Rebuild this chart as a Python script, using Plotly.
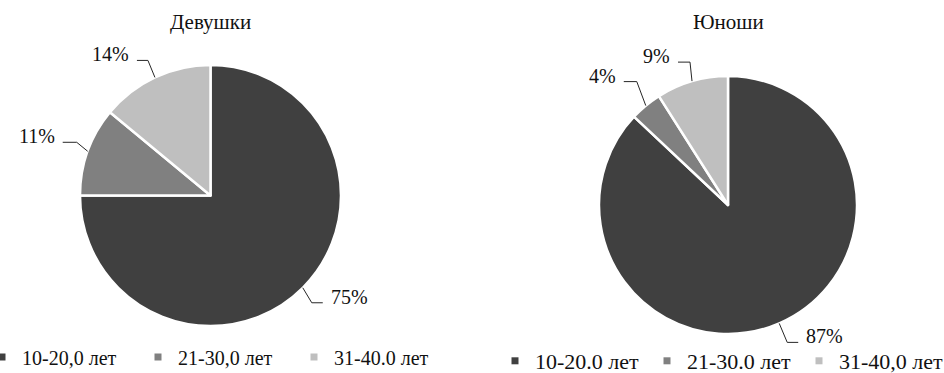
import math
import plotly.graph_objects as go

# ---- data ----
titles = ["Девушки", "Юноши"]
labels_girls = ["10-20,0 лет", "21-30,0 лет", "31-40.0 лет"]
labels_boys = ["10-20.0 лет", "21-30.0 лет", "31-40,0 лет"]
values_girls = [75, 11, 14]
values_boys = [87, 4, 9]

# ---- style ----
colors = ["#404040", "#808080", "#bfbfbf"]
FONT = "Liberation Serif"
TXT = "#111111"
W, H = 944, 373

# pie geometry (px) and leader-line elbows per slice: (dx, dy, horizontal length)
pies = [
    dict(cx=210.5, cy=195.5, r=130.5, title=titles[0], labels=labels_girls,
         values=values_girls, legend="legend",
         elbows=[(9, 15, 11), (-11, -9, -14), (-7, -17, -11)]),
    dict(cx=728.0, cy=205.0, r=129.0, title=titles[1], labels=labels_boys,
         values=values_boys, legend="legend2",
         elbows=[(8, 19, 11), (-9, -24, -13), (-2, -19, -12)]),
]


def px(x):
    return x / W


def py(y):
    return 1 - y / H


fig = go.Figure()
annotations = []
shapes = []

for p in pies:
    fig.add_trace(go.Pie(
        labels=p["labels"], values=p["values"], sort=False,
        direction="clockwise", rotation=0, textinfo="none",
        marker=dict(colors=colors, line=dict(color="white", width=2.5)),
        domain=dict(x=[px(p["cx"] - p["r"]), px(p["cx"] + p["r"])],
                    y=[py(p["cy"] + p["r"]), py(p["cy"] - p["r"])]),
        showlegend=False, hoverinfo="label+percent",
    ))
    # legend entries
    for lab, col in zip(p["labels"], colors):
        fig.add_trace(go.Scatter(
            x=[None], y=[None], mode="markers", name=lab,
            marker=dict(symbol="square", size=7, color=col),
            legend=p["legend"], hoverinfo="skip",
        ))
    # title
    annotations.append(dict(
        x=px(p["cx"]), y=py(22), xref="paper", yref="paper",
        text=p["title"], showarrow=False, xanchor="center", yanchor="middle",
        font=dict(family=FONT, size=21, color=TXT)))
    # data labels with leader lines
    total = sum(p["values"])
    cum = 0
    for v, (ex, ey, hl) in zip(p["values"], p["elbows"]):
        mid = (cum + v / 2) / total * 2 * math.pi
        cum += v
        x0 = p["cx"] + p["r"] * math.sin(mid)
        y0 = p["cy"] - p["r"] * math.cos(mid)
        x1, y1 = x0 + ex, y0 + ey
        x2 = x1 + hl
        shapes.append(dict(
            type="path", xref="paper", yref="paper",
            path=f"M {px(x0)},{py(y0)} L {px(x1)},{py(y1)} L {px(x2)},{py(y1)}",
            line=dict(color="#262626", width=1)))
        sgn = 1 if hl > 0 else -1
        annotations.append(dict(
            x=px(x2 + sgn * 6), y=py(y1 - 6), xref="paper", yref="paper",
            text=f"{round(v / total * 100)}%", showarrow=False,
            xanchor="left" if sgn > 0 else "right", yanchor="middle",
            font=dict(family=FONT, size=20, color=TXT)))

leg_common = dict(orientation="h", xanchor="left", yanchor="middle",
                  bgcolor="rgba(0,0,0,0)", itemwidth=30,
                  tracegroupgap=0, itemclick=False)

fig.update_layout(
    width=W, height=H,
    margin=dict(l=0, r=0, t=0, b=0, pad=0, autoexpand=False),
    paper_bgcolor="white", plot_bgcolor="white",
    xaxis=dict(visible=False), yaxis=dict(visible=False),
    annotations=annotations, shapes=shapes,
    legend=dict(x=px(-18), y=py(357), entrywidth=111,
                font=dict(family=FONT, size=20, color=TXT), **leg_common),
    legend2=dict(x=px(495), y=py(361), entrywidth=107,
                 font=dict(family=FONT, size=22, color=TXT), **leg_common),
    font=dict(family=FONT),
)

fig.write_html("out.html")
